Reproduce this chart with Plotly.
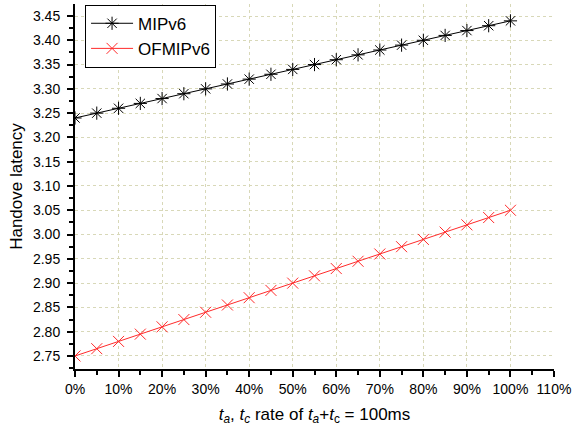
import plotly.graph_objects as go

rate = [0, 0.05, 0.10, 0.15, 0.20, 0.25, 0.30, 0.35, 0.40, 0.45, 0.50,
        0.55, 0.60, 0.65, 0.70, 0.75, 0.80, 0.85, 0.90, 0.95, 1.00]
mipv6 = [3.24, 3.25, 3.26, 3.27, 3.28, 3.29, 3.30, 3.31, 3.32, 3.33, 3.34,
         3.35, 3.36, 3.37, 3.38, 3.39, 3.40, 3.41, 3.42, 3.43, 3.44]
ofmipv6 = [2.750, 2.765, 2.780, 2.795, 2.810, 2.825, 2.840, 2.855, 2.870, 2.885, 2.900,
           2.915, 2.930, 2.945, 2.960, 2.975, 2.990, 3.005, 3.020, 3.035, 3.050]

fig = go.Figure()
fig.add_trace(go.Scatter(
    x=rate, y=mipv6, name="MIPv6", mode="lines+markers",
    line=dict(color="#000000", width=1),
    marker=dict(symbol="asterisk-open", size=11, color="#000000", line=dict(width=1, color="#000000")),
))
fig.add_trace(go.Scatter(
    x=rate, y=ofmipv6, name="OFMIPv6", mode="lines+markers",
    line=dict(color="#ff2a2a", width=1),
    marker=dict(symbol="x-thin-open", size=11, color="#ff2a2a", line=dict(width=1, color="#ff2a2a")),
))

font = "Liberation Sans, Arial, sans-serif"
fig.update_layout(
    width=572, height=434,
    margin=dict(l=75, r=18, t=4, b=65, autoexpand=False),
    paper_bgcolor="white", plot_bgcolor="white",
    font=dict(family=font, size=14, color="#000000"),
    showlegend=True,
    legend=dict(
        x=0.021, y=0.998, xanchor="left", yanchor="top",
        bordercolor="#000000", borderwidth=1, bgcolor="white",
        font=dict(size=17, family=font),
        tracegroupgap=0, itemwidth=42,
    ),
    xaxis=dict(
        range=[0, 1.1], tick0=0, dtick=0.1, tickformat=".0%",
        automargin=False,
        showline=True, linecolor="#000000", linewidth=2,
        ticks="outside", ticklen=6, tickwidth=2, tickcolor="#000000",
        minor=dict(dtick=0.05, ticks="outside", ticklen=4, tickwidth=1.5, tickcolor="#000000", showgrid=False),
        showgrid=True, gridcolor="#d8d8b8", griddash="dot", gridwidth=1,
        zeroline=False,
        tickfont=dict(size=14),
        title=dict(
            text="<i>t</i><sub><i>a</i></sub>, <i>t</i><sub><i>c</i></sub> rate of <i>t</i><sub><i>a</i></sub>+<i>t</i><sub>c</sub> = 100ms",
            font=dict(size=17), standoff=12,
        ),
    ),
    yaxis=dict(
        range=[2.7232, 3.4747], tick0=2.75, dtick=0.05, tickformat=".2f",
        automargin=False,
        showline=True, linecolor="#000000", linewidth=2,
        ticks="outside", ticklen=6, tickwidth=2, tickcolor="#000000",
        ticklabelstandoff=4,
        minor=dict(dtick=0.025, ticks="outside", ticklen=4, tickwidth=1.5, tickcolor="#000000", showgrid=False),
        showgrid=True, gridcolor="#d8d8b8", griddash="dot", gridwidth=1,
        zeroline=False,
        tickfont=dict(size=14),
        title=dict(text="Handove latency", font=dict(size=17), standoff=6),
    ),
)

# remove the default 8px page margin so the figure fills the window exactly
fig.write_html("out.html", config={"displayModeBar": False},
               post_script="document.body.style.margin='0';")
